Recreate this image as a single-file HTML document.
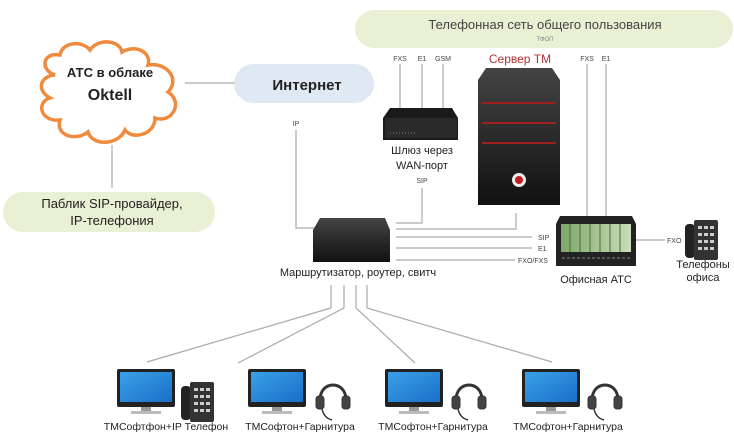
<!DOCTYPE html>
<html><head><meta charset="utf-8"><style>
body{margin:0;background:#fff;}
svg{display:block;font-family:"Liberation Sans","DejaVu Sans",sans-serif;}
</style></head><body>
<svg width="734" height="440" viewBox="0 0 734 440" xmlns="http://www.w3.org/2000/svg">
<defs>
<linearGradient id="scr" x1="0" y1="0" x2="1" y2="1"><stop offset="0" stop-color="#3aa0e8"/><stop offset="1" stop-color="#1a6fc8"/></linearGradient>
<linearGradient id="blk" x1="0" y1="0" x2="0" y2="1"><stop offset="0" stop-color="#444"/><stop offset="1" stop-color="#111"/></linearGradient>
<linearGradient id="atc" x1="0" y1="0" x2="1" y2="0"><stop offset="0" stop-color="#7fa86a"/><stop offset="1" stop-color="#c8dcb8"/></linearGradient>
<g id="mon"><rect x="0" y="0" width="58" height="38" rx="2" fill="#222"/><rect x="3" y="3" width="52" height="30" fill="url(#scr)"/><rect x="24" y="38" width="10" height="5" fill="#999"/><rect x="14" y="42" width="30" height="3" fill="#bbb"/></g>
<g id="hs" fill="none" stroke="#333"><path d="M4 22 C4 2 30 2 30 22" stroke-width="3"/><rect x="0" y="18" width="8" height="13" rx="3" fill="#444"/><rect x="26" y="18" width="8" height="13" rx="3" fill="#444"/><path d="M6 31 Q8 40 16 42" stroke-width="1.5"/></g>
<g id="ph"><rect x="0" y="4" width="10" height="34" rx="4" fill="#222"/><rect x="9" y="0" width="24" height="40" rx="2" fill="#333"/><g fill="#ccc"><rect x="13" y="6" width="4" height="3"/><rect x="19" y="6" width="4" height="3"/><rect x="25" y="6" width="4" height="3"/><rect x="13" y="13" width="4" height="3"/><rect x="19" y="13" width="4" height="3"/><rect x="25" y="13" width="4" height="3"/><rect x="13" y="20" width="4" height="3"/><rect x="19" y="20" width="4" height="3"/><rect x="25" y="20" width="4" height="3"/><rect x="13" y="27" width="4" height="3"/><rect x="19" y="27" width="4" height="3"/><rect x="25" y="27" width="4" height="3"/></g></g>
</defs>
<rect x="355" y="10" width="378" height="38" rx="19" fill="#e9f0d4"/>
<text x="545" y="29" font-size="13" fill="#444" text-anchor="middle">Телефонная сеть общего пользования</text>
<text x="545" y="41" font-size="6" fill="#888" text-anchor="middle">ТФОП</text>
<path d="M55 75 C40 70 42 52 60 55 C62 42 82 40 90 50 C98 38 120 40 122 52 C135 44 152 52 148 65 C168 62 180 80 168 92 C184 102 172 124 155 118 C155 135 132 140 125 130 C118 146 92 146 88 132 C75 142 55 135 60 120 C40 122 36 102 50 98 C36 90 40 76 55 75 Z" fill="#fff" stroke="#f08a3c" stroke-width="3.5"/>
<text x="110" y="77" font-size="13" font-weight="bold" fill="#222" text-anchor="middle">АТС в облаке</text>
<text x="110" y="100" font-size="16" font-weight="bold" fill="#222" text-anchor="middle">Oktell</text>
<g stroke="#aaa" stroke-width="1.2" fill="none">
<line x1="185" y1="83" x2="235" y2="83"/>
<line x1="112" y1="145" x2="112" y2="188"/>
<polyline points="296,130 296,228 315,228"/>
<polyline points="422,188 422,223 396,223"/>
<polyline points="516,213 516,229 396,229"/>
<line x1="396" y1="237" x2="532" y2="237"/>
<line x1="396" y1="248" x2="532" y2="248"/>
<line x1="396" y1="260" x2="515" y2="260"/>
<line x1="400" y1="64" x2="400" y2="108"/><line x1="422" y1="64" x2="422" y2="108"/><line x1="443" y1="64" x2="443" y2="108"/>
<line x1="587" y1="64" x2="587" y2="218"/><line x1="606" y1="64" x2="606" y2="218"/>
<line x1="635" y1="240" x2="665" y2="240"/>
<polyline points="331,285 331,308 147,362"/>
<polyline points="344,285 344,308 238,363"/>
<polyline points="356,285 356,308 415,363"/>
<polyline points="367,285 367,308 552,362"/>
</g>
<rect x="234" y="64" width="140" height="39" rx="19.5" fill="#dfe9f3"/>
<text x="307" y="90" font-size="15" font-weight="bold" fill="#222" text-anchor="middle">Интернет</text>
<rect x="3" y="192" width="212" height="40" rx="20" fill="#e9f0d4"/>
<text x="112" y="208" font-size="13" fill="#222" text-anchor="middle">Паблик SIP-провайдер,</text>
<text x="112" y="225" font-size="13" fill="#222" text-anchor="middle">IP-телефония</text>
<text x="296" y="126" font-size="7" fill="#444" text-anchor="middle">IP</text>
<path d="M320 218 L385 218 L390 230 L390 262 L313 262 L313 230 Z" fill="url(#blk)"/>
<text x="358" y="276" font-size="11" fill="#222" text-anchor="middle">Маршрутизатор, роутер, свитч</text>
<path d="M390 108 L452 108 L458 118 L458 140 L383 140 L383 118 Z" fill="#1a1a1a"/>
<rect x="385" y="118" width="72" height="20" fill="#2a2a2a"/>
<line x1="390" y1="133" x2="415" y2="133" stroke="#888" stroke-dasharray="1,2"/>
<g font-size="7" fill="#444" text-anchor="middle"><text x="400" y="61">FXS</text><text x="422" y="61">E1</text><text x="443" y="61">GSM</text><text x="587" y="61">FXS</text><text x="606" y="61">E1</text></g>
<text x="422" y="154" font-size="11" fill="#222" text-anchor="middle">Шлюз через</text>
<text x="422" y="169" font-size="11" fill="#222" text-anchor="middle">WAN-порт</text>
<text x="422" y="183" font-size="7" fill="#444" text-anchor="middle">SIP</text>
<text x="520" y="63" font-size="12" fill="#b03030" text-anchor="middle">Сервер ТМ</text>
<path d="M486 68 L552 68 L560 80 L560 205 L478 205 L478 80 Z" fill="url(#blk)"/>
<g stroke="#a02020" stroke-width="2"><line x1="482" y1="103" x2="556" y2="103"/><line x1="482" y1="123" x2="556" y2="123"/><line x1="482" y1="143" x2="556" y2="143"/></g>
<circle cx="519" cy="180" r="7" fill="#eee"/><circle cx="519" cy="180" r="4" fill="#c02020"/>
<g font-size="7" fill="#444"><text x="538" y="240">SIP</text><text x="538" y="251">E1</text><text x="518" y="263">FXO/FXS</text><text x="667" y="243">FXO</text></g>
<path d="M560 216 L632 216 L636 224 L636 266 L556 266 L556 224 Z" fill="#222"/>
<rect x="561" y="224" width="70" height="28" fill="url(#atc)"/>
<g stroke="#4a6a3a"><line x1="570" y1="224" x2="570" y2="252"/><line x1="580" y1="224" x2="580" y2="252"/><line x1="590" y1="224" x2="590" y2="252"/><line x1="600" y1="224" x2="600" y2="252"/><line x1="610" y1="224" x2="610" y2="252"/><line x1="620" y1="224" x2="620" y2="252"/></g>
<line x1="562" y1="258" x2="630" y2="258" stroke="#888" stroke-dasharray="3,2"/>
<text x="596" y="283" font-size="11" fill="#222" text-anchor="middle">Офисная АТС</text>
<use href="#ph" x="685" y="220"/>
<text x="703" y="268" font-size="11" fill="#222" text-anchor="middle">Телефоны</text>
<text x="703" y="281" font-size="11" fill="#222" text-anchor="middle">офиса</text>
<use href="#mon" x="117" y="369"/><use href="#ph" x="181" y="382"/>
<use href="#mon" x="248" y="369"/><use href="#hs" x="316" y="378"/>
<use href="#mon" x="385" y="369"/><use href="#hs" x="452" y="378"/>
<use href="#mon" x="522" y="369"/><use href="#hs" x="588" y="378"/>
<g font-size="10.5" fill="#222" text-anchor="middle">
<text x="166" y="430">ТМСофтфон+IP Телефон</text>
<text x="300" y="430">ТМСофтон+Гарнитура</text>
<text x="433" y="430">ТМСофтон+Гарнитура</text>
<text x="568" y="430">ТМСофтон+Гарнитура</text>
</g>
</svg>
</body></html>
